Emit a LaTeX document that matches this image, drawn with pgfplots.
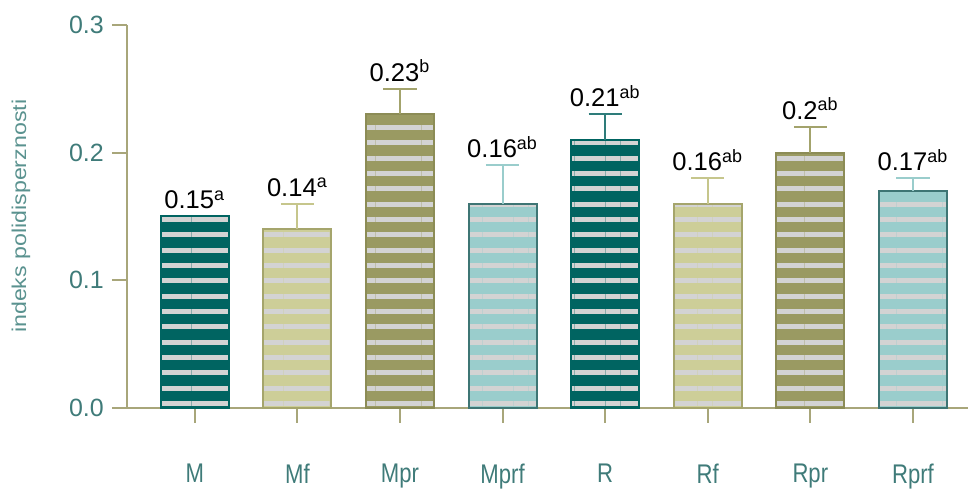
\documentclass[border=0pt]{standalone}
\usepackage{pgfplots}
\pgfplotsset{compat=1.18}
\usepackage{graphicx}
\usepackage{fontspec}
\setmainfont{Liberation Sans}
\usetikzlibrary{patterns.meta}

\definecolor{cA}{HTML}{006461}
\definecolor{cB}{HTML}{CDCE98}
\definecolor{cBd}{HTML}{A5A56C}
\definecolor{cC}{HTML}{9A9A62}
\definecolor{cCd}{HTML}{8C8C56}
\definecolor{cD}{HTML}{9ACDCC}
\definecolor{cDd}{HTML}{3E7574}
\definecolor{eA}{HTML}{2E7C7A}
\definecolor{eB}{HTML}{C6C68C}
\definecolor{eC}{HTML}{A3A36C}
\definecolor{eD}{HTML}{9ACDCC}
\definecolor{stripe}{HTML}{D3D3D3}
\definecolor{axiscol}{HTML}{A8A67A}
\definecolor{tickcol}{HTML}{3F7B79}
\definecolor{labcol}{HTML}{5A928F}

\tikzset{striped/.style={postaction={pattern={Lines[angle=0,distance=7.67pt,line width=2.5pt]},pattern color=stripe}}}

% one bar: x, y, fill, border
\newcommand{\onebar}[4]{%
  \addplot[ybar, bar width=34pt, bar shift=0pt, fill=#3, draw=#4, line width=1pt, striped] coordinates {(#1,#2)};
  \addplot[ybar, bar width=34pt, bar shift=0pt, fill=none, draw=#4, line width=1pt] coordinates {(#1,#2)};
}
% error bar: x, y, err, colour
\newcommand{\oneerr}[4]{%
  \addplot[draw=none, mark=none, error bars/.cd, y dir=plus, y explicit,
    error bar style={draw=#4, line width=1pt},
    error mark options={rotate=90, mark size=8.3pt, draw=#4, line width=1pt}]
    coordinates {(#1,#2) +- (0,#3)};
}

\begin{document}
\begin{tikzpicture}
\begin{axis}[
  at={(0,0)}, anchor=south west,
  scale only axis, width=421pt, height=191.5pt,
  xmin=-0.662, xmax=7.537, ymin=0, ymax=0.3,
  axis x line*=bottom, axis y line*=left,
  axis line style={draw=axiscol, line width=1pt},
  tick align=outside, major tick length=7.5pt,
  tick style={draw=axiscol, line width=1pt},
  xtick={0,1,2,3,4,5,6,7},
  xticklabels={M,Mf,Mpr,Mprf,R,Rf,Rpr,Rprf},
  ytick={0,0.1,0.2,0.3},
  yticklabels={0.0,0.1,0.2,0.3},
  xticklabel style={font=\fontsize{13.5}{15}\selectfont, text=tickcol, xscale=0.82, anchor=north, yshift=-17pt},
  yticklabel style={font=\fontsize{12.5}{15}\selectfont, text=tickcol, anchor=east, xshift=-0.5pt},
  every axis y label/.style={at={(axis description cs:-0.1259,0.5)}, rotate=90, anchor=center, yshift=0pt},
  ylabel={\fontsize{10}{12}\selectfont\scalebox{1.16}[1]{indeks polidisperznosti}},
  ylabel style={text=labcol},
  clip=false,
]
\onebar{0}{0.15}{cA}{cA}
\onebar{1}{0.14}{cB}{cBd}
\onebar{2}{0.23}{cC}{cCd}
\onebar{3}{0.16}{cD}{cDd}
\onebar{4}{0.21}{cA}{cA}
\onebar{5}{0.16}{cB}{cBd}
\onebar{6}{0.20}{cC}{cCd}
\onebar{7}{0.17}{cD}{cDd}

\oneerr{1}{0.14}{0.02}{eB}
\oneerr{2}{0.23}{0.02}{eC}
\oneerr{3}{0.16}{0.03}{eD}
\oneerr{4}{0.21}{0.02}{eA}
\oneerr{5}{0.16}{0.02}{eB}
\oneerr{6}{0.20}{0.02}{eC}
\oneerr{7}{0.17}{0.01}{eD}

\addplot[draw=none, mark=none, nodes near coords, point meta=explicit symbolic,
  nodes near coords style={anchor=south, font=\fontsize{12.8}{14}\selectfont, text=black}]
  coordinates {
  (0,0.15) [0.15\textsuperscript{a}]
  (1,0.16) [0.14\textsuperscript{a}]
  (2,0.25) [0.23\textsuperscript{b}]
  (3,0.19) [0.16\textsuperscript{ab}]
  (4,0.23) [0.21\textsuperscript{ab}]
  (5,0.18) [0.16\textsuperscript{ab}]
  (6,0.22) [0.2\textsuperscript{ab}]
  (7,0.18) [0.17\textsuperscript{ab}]
  };
\end{axis}
\path (-63.5pt,-38pt) rectangle (421pt,204pt);
\end{tikzpicture}
\end{document}
